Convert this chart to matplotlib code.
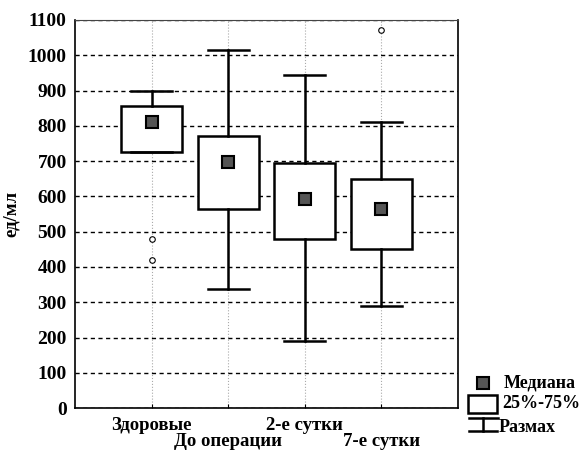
import matplotlib.pyplot as plt
from matplotlib.patches import Rectangle
from matplotlib.lines import Line2D

plt.rcParams['font.family'] = ['Liberation Serif', 'DejaVu Serif']
plt.rcParams['font.weight'] = 'bold'

# данные (ед/мл)
groups = ['Здоровые', 'До операции', '2-е сутки', '7-е сутки']
medians = [810, 697, 592, 565]
q1 = [726, 563, 479, 451]
q3 = [857, 771, 695, 649]
whis_lo = [726, 337, 190, 289]
whis_hi = [900, 1015, 943, 812]
outliers = [[480, 420], [], [], [1072]]
yticks = list(range(0, 1101, 100))

fig = plt.figure(figsize=(5.87, 4.54), dpi=100)
ax = fig.add_axes([0.128, 0.101, 0.652, 0.855])

pos = list(range(1, len(groups) + 1))
stats = []
for i in range(len(groups)):
    stats.append(dict(med=medians[i], q1=q1[i], q3=q3[i],
                      whislo=whis_lo[i], whishi=whis_hi[i], fliers=outliers[i]))

lw = 1.8
ax.bxp(stats, positions=pos, widths=0.8, capwidths=0.53, patch_artist=True,
       boxprops=dict(facecolor='white', edgecolor='black', linewidth=lw),
       whiskerprops=dict(color='black', linewidth=lw),
       capprops=dict(color='black', linewidth=lw),
       medianprops=dict(linewidth=0),
       flierprops=dict(marker='o', markersize=4, markerfacecolor='white',
                       markeredgecolor='black', markeredgewidth=0.8),
       zorder=3)
ax.plot(pos, medians, linestyle='none', marker='s', markersize=9,
        markerfacecolor='#555555', markeredgecolor='black', markeredgewidth=1.5,
        zorder=5)

ax.set_xlim(0, 5)
ax.set_ylim(0, 1100)
ax.set_yticks(yticks)
ax.set_yticklabels([str(v) for v in yticks], fontsize=14, fontweight='bold')
ax.set_xticks(pos)
ax.set_xticklabels([])
for i, g in enumerate(groups):
    off = -0.045 if i % 2 == 0 else -0.087
    ax.text(pos[i], off, g, transform=ax.get_xaxis_transform(), ha='center',
            va='center', fontsize=13.5, fontweight='bold')
ax.tick_params(axis='x', direction='in', length=3, width=0.8)
ax.tick_params(axis='y', length=0, pad=6)
ax.yaxis.grid(True, linestyle=(0, (3, 2.5)), color='black', linewidth=1.0)
ax.xaxis.grid(True, linestyle=':', color='#aaaaaa', linewidth=0.8)
ax.set_axisbelow(True)
for s in ax.spines.values():
    s.set_linewidth(1.2)
ax.spines['top'].set_color('#444444')
ax.spines['top'].set_linewidth(0.8)
ax.set_ylabel('ед/мл', fontsize=13.5, fontweight='bold', labelpad=6)

# легенда
W, H = 587, 454
def fx(x):
    return x / W
def fy(y):
    return 1 - y / H

fig.add_artist(Line2D([fx(483)], [fy(383)], marker='s', markersize=9,
                      markerfacecolor='#555555', markeredgecolor='black',
                      markeredgewidth=1.5, linestyle='none'))
fig.add_artist(Rectangle((fx(468), fy(413)), fx(497) - fx(468), fy(395) - fy(413),
                         facecolor='white', edgecolor='black', linewidth=lw))
fig.add_artist(Line2D([fx(469), fx(498)], [fy(418), fy(418)], color='black', linewidth=lw))
fig.add_artist(Line2D([fx(483), fx(483)], [fy(418), fy(431)], color='black', linewidth=lw))
fig.add_artist(Line2D([fx(469), fx(497)], [fy(431), fy(431)], color='black', linewidth=lw))
fig.text(fx(504), fy(383), 'Медиана', fontsize=13, fontweight='bold', va='center')
fig.text(fx(502), fy(404), '25%-75%', fontsize=13, fontweight='bold', va='center')
fig.text(fx(499), fy(428), 'Размах', fontsize=13, fontweight='bold', va='center')

fig.savefig('out.png', dpi=100)
